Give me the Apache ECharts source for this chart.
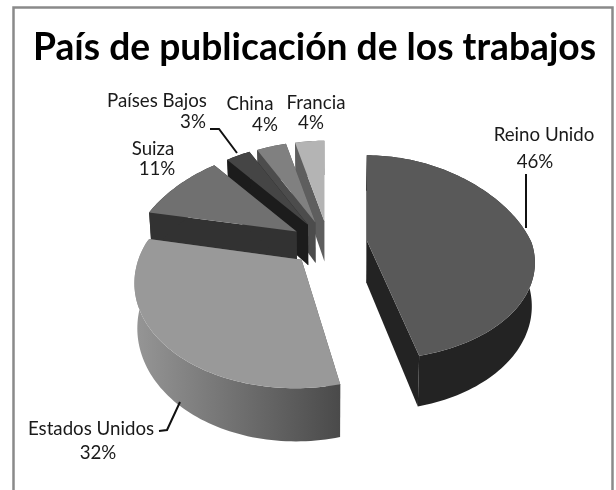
<!DOCTYPE html>
<html>
<head>
<meta charset="utf-8">
<style>html,body{margin:0;padding:0;background:#fff}#c{width:616px;height:490px}</style>
<script src="https://cdn.jsdelivr.net/npm/echarts@6/dist/echarts.min.js"></script>
</head>
<body>
<div id="c"></div>
<script>
const categories = ['Reino Unido', 'Estados Unidos', 'Suiza', 'Países Bajos', 'China', 'Francia'];
const shares = [46.4, 31.9, 10.8, 3.1, 3.9, 3.9];
const chartTitle = 'País de publicación de los trabajos';

const topColors = ['#595959', '#999999', '#707070', '#454545', '#808080', '#b4b4b4'];
const sideColors = ['#232323', null, '#323232', '#1c1c1c', '#4c4c4c', '#5e5e5e'];
const sliceWidthScale = [1, 0.96, 1, 1, 1, 1];
const labelPlacement = [
  { name: [544, 135], pct: [535, 162], line: [[526, 174], [526, 228]] },
  { name: [91, 429], pct: [98, 453], line: [[159, 431], [167, 430], [180, 402]] },
  { name: [153, 149], pct: [157, 169], line: null },
  { name: [157, 101], pct: [193, 122], line: [[210, 129], [219, 129], [237, 153]] },
  { name: [250, 104], pct: [265, 125], line: null },
  { name: [316, 103], pct: [311, 123], line: null }
];

// Perspective pie geometry
const GX = 329, GY = 243, R = 165, TILT = 98 / 164, K = 0.18, K_FAR = 0.15, EXPLODE = 38, DEPTH = 42;
const total = shares.reduce((a, b) => a + b, 0);

function project(u, v, ou, lower) {
  const d = 1 - K * v / R;
  let x, y;
  if (v < 0) {
    x = ou + (u - ou) / Math.pow(d, 1.6);
    y = TILT * v / (1 - K_FAR * v / R);
  } else {
    x = u / d;
    y = TILT * v / d;
  }
  if (!lower) return [GX + x, GY + y];
  return [GX + x * 0.985, GY + y + DEPTH / d];
}

function renderSlice(params, api) {
  const i = params.dataIndex;
  const value = api.value(0);
  let before = 0;
  for (let j = 0; j < i; j++) before += shares[j];
  const a0 = before / total * 2 * Math.PI;
  const a1 = (before + value) / total * 2 * Math.PI;
  const mid = (a0 + a1) / 2;
  const ou = EXPLODE * Math.sin(mid), ov = -EXPLODE * Math.cos(mid);
  const n = Math.max(6, Math.round((a1 - a0) * 40));
  const upper = [], lower = [];
  for (let s = 0; s <= n; s++) {
    const a = a0 + (a1 - a0) * s / n;
    const u = ou + sliceWidthScale[i] * R * Math.sin(a), v = ov - R * Math.cos(a);
    upper.push(project(u, v, ou, false));
    lower.push(project(u, v, ou, true));
  }
  const apexU = project(ou, ov, ou, false), apexL = project(ou, ov, ou, true);
  const base = (6 - i) * 100;
  const sideFill = sideColors[i] || {
    type: 'linear', x: 0, y: 0, x2: 1, y2: 0,
    colorStops: [{ offset: 0, color: '#969696' }, { offset: 1, color: '#4a4a4a' }]
  };
  const flat = sideColors[i] || '#555555';
  const poly = (points, fill, z) => ({
    type: 'polygon', shape: { points }, z2: base + z,
    style: { fill, stroke: null }
  });
  return {
    type: 'group',
    children: [
      poly([apexU, upper[0], lower[0], apexL], flat, 1),
      poly([apexU, upper[n], lower[n], apexL], flat, 2),
      poly(upper.concat(lower.slice().reverse()), sideFill, 3),
      poly([apexU].concat(upper), topColors[i], 4)
    ]
  };
}

const labelFont = 'Lato';
const graphics = [{
  type: 'rect', shape: { x: 13.5, y: 7.5, width: 599, height: 500 },
  style: { fill: '#ffffff', stroke: '#8a8a8a', lineWidth: 2.5 }, z: -10
}];
labelPlacement.forEach((p, i) => {
  graphics.push({
    type: 'text', x: p.name[0], y: p.name[1], z: 10,
    style: { text: categories[i], fill: '#1a1a1a', font: '18.7px ' + labelFont, align: 'center', verticalAlign: 'middle' }
  });
  graphics.push({
    type: 'text', x: p.pct[0], y: p.pct[1], z: 10,
    style: { text: Math.round(shares[i]) + '%', fill: '#1a1a1a', font: '18.7px ' + labelFont, align: 'center', verticalAlign: 'middle' }
  });
  if (p.line) graphics.push({
    type: 'polyline', shape: { points: p.line }, z: 10,
    style: { stroke: '#111111', lineWidth: 2, fill: null }
  });
});

const chart = echarts.init(document.getElementById('c'), null, { renderer: 'canvas' });
chart.setOption({
  animation: false,
  backgroundColor: '#ffffff',
  title: {
    text: chartTitle, left: 33, top: 30, padding: 0,
    textStyle: { fontFamily: 'Lato', fontWeight: 'bold', fontSize: 37.2, color: '#000000' }
  },
  graphic: graphics,
  series: [{
    type: 'custom',
    coordinateSystem: 'none',
    silent: true,
    renderItem: renderSlice,
    data: shares.map((v, i) => ({ name: categories[i], value: [v] })),
    z: 2
  }]
});
</script>
</body>
</html>
